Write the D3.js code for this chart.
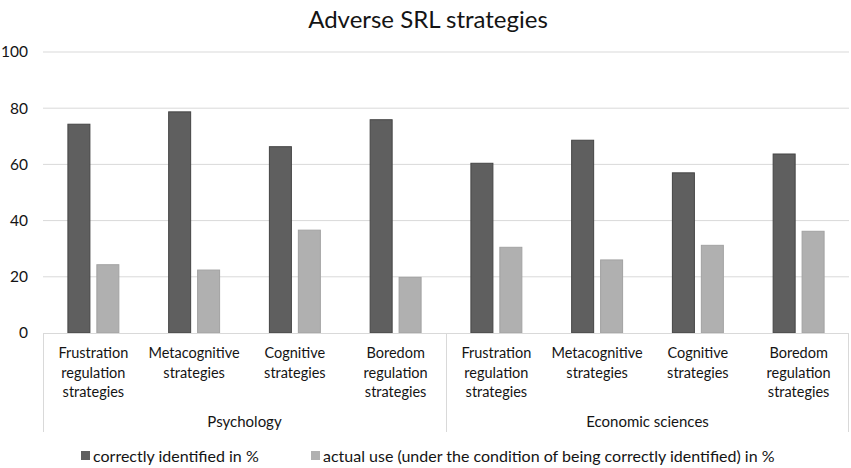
<!DOCTYPE html>
<html>
<head>
<meta charset="utf-8">
<script src="https://cdn.jsdelivr.net/npm/d3@7"></script>
<style>
  body { margin: 0; background: #fff; }
  text { font-family: Lato, "Open Sans", sans-serif; fill: #141414; }
</style>
</head>
<body>
<div id="chart"></div>
<script>
const groups = ["Psychology", "Economic sciences"];
const categories = [
    ["Frustration", "regulation", "strategies"],
    ["Metacognitive", "strategies"],
    ["Cognitive", "strategies"],
    ["Boredom", "regulation", "strategies"]
];
const seriesNames = [
    "correctly identified in %",
    "actual use (under the condition of being correctly identified) in %"
];
const correctlyIdentified = [74.3, 78.7, 66.3, 75.9, 60.4, 68.6, 57.0, 63.7];
const actualUse = [24.3, 22.4, 36.6, 19.8, 30.5, 26.0, 31.2, 36.2];
const yTicks = [0, 20, 40, 60, 80, 100];

const W = 851, H = 468;
const margin = { top: 52, right: 2, bottom: 135, left: 43 };
const width = W - margin.left - margin.right;
const height = H - margin.top - margin.bottom;

const fills = ["#5f5f5f", "#b0b0b0"];
const strokes = ["#454545", "#a2a2a2"];

const svg = d3.select("#chart")
    .append("svg")
    .attr("width", W)
    .attr("height", H);

svg.append("text")
    .attr("x", 428)
    .attr("y", 28)
    .style("text-anchor", "middle")
    .style("font-size", "24px")
    .text("Adverse SRL strategies");

const g = svg.append("g")
    .attr("transform", `translate(${margin.left},${margin.top})`);

const slots = d3.range(correctlyIdentified.length);

const x0 = d3.scaleBand()
    .domain(slots)
    .range([0, width])
    .padding(0);

const x1 = d3.scaleBand()
    .domain([0, 1])
    .range([0, x0.bandwidth()])
    .paddingInner(0.24)
    .paddingOuter(0.86);

const y = d3.scaleLinear()
    .domain([0, 100])
    .range([height, 0]);

// gridlines
g.append("g")
    .selectAll("line")
    .data(yTicks.filter(t => t > 0))
    .enter()
    .append("line")
    .attr("x1", 0)
    .attr("x2", width)
    .attr("y1", d => y(d))
    .attr("y2", d => y(d))
    .attr("stroke", "#d9d9d9")
    .attr("stroke-width", 1);

// y tick labels
g.append("g")
    .selectAll("text")
    .data(yTicks)
    .enter()
    .append("text")
    .attr("x", -15)
    .attr("y", d => y(d))
    .attr("dy", "0.35em")
    .style("text-anchor", "end")
    .style("font-size", "15.5px")
    .text(d => d);

// bars
const series = [correctlyIdentified, actualUse];
series.forEach((vals, s) => {
    g.append("g")
        .selectAll("rect")
        .data(vals)
        .enter()
        .append("rect")
        .attr("x", (d, i) => x0(i) + x1(s))
        .attr("y", d => y(d))
        .attr("width", x1.bandwidth())
        .attr("height", d => height - y(d))
        .attr("fill", fills[s])
        .attr("stroke", strokes[s])
        .attr("stroke-width", 1);
});

// baseline
g.append("line")
    .attr("x1", 0)
    .attr("x2", width)
    .attr("y1", height + 0.5)
    .attr("y2", height + 0.5)
    .attr("stroke", "#d9d9d9");

// group dividers
const perGroup = categories.length;
const dividers = d3.range(groups.length + 1).map(k => k * perGroup);
g.append("g")
    .selectAll("line")
    .data(dividers)
    .enter()
    .append("line")
    .attr("x1", d => d < slots.length ? x0(d) + 0.5 : width - 0.5)
    .attr("x2", d => d < slots.length ? x0(d) + 0.5 : width - 0.5)
    .attr("y1", height)
    .attr("y2", height + 99)
    .attr("stroke", "#d9d9d9");

// category labels
slots.forEach(i => {
    const lines = categories[i % perGroup];
    const t = g.append("text")
        .attr("x", x0(i) + x0.bandwidth() / 2)
        .attr("y", height + 25)
        .style("text-anchor", "middle")
        .style("font-size", "14.5px");
    lines.forEach((ln, j) => {
        t.append("tspan")
            .attr("x", x0(i) + x0.bandwidth() / 2)
            .attr("dy", j === 0 ? 0 : 19.5)
            .text(ln);
    });
});

// group labels
groups.forEach((name, k) => {
    const start = x0(k * perGroup);
    const end = k === groups.length - 1 ? width : x0((k + 1) * perGroup);
    g.append("text")
        .attr("x", (start + end) / 2)
        .attr("y", height + 94)
        .style("text-anchor", "middle")
        .style("font-size", "15px")
        .text(name);
});

// legend
const legendX = [81, 311];
const legend = svg.append("g");
seriesNames.forEach((name, s) => {
    legend.append("rect")
        .attr("x", legendX[s])
        .attr("y", 451)
        .attr("width", 9)
        .attr("height", 9)
        .attr("fill", fills[s]);
    legend.append("text")
        .attr("x", legendX[s] + 12)
        .attr("y", 456)
        .attr("dy", "0.35em")
        .style("font-size", "16px")
        .text(name);
});
</script>
</body>
</html>
